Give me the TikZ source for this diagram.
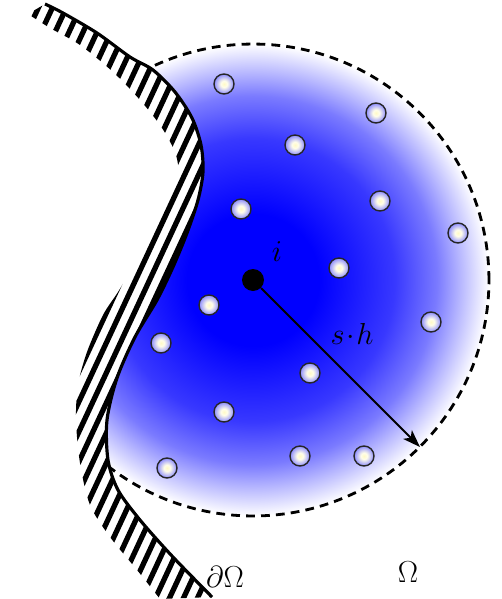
\documentclass[tikz,border=0pt]{standalone}
\usepackage{amsmath}
\usepackage{xcolor}
\usepackage{tikz}
\usetikzlibrary{arrows.meta,positioning}
\definecolor{kerblue}{RGB}{0,0,255}
\definecolor{pcore}{RGB}{255,250,200}
\pgfdeclareradialshading{kernelfade}{\pgfpointorigin}{color(0bp)=(kerblue); color(7bp)=(kerblue); color(15bp)=(kerblue!78!white); color(19.5bp)=(kerblue!52!white); color(22bp)=(kerblue!28!white); color(25bp)=(white); color(50bp)=(white)}
\pgfdeclareradialshading{partglow}{\pgfpointorigin}{color(0bp)=(pcore); color(8bp)=(pcore!40!white); color(25bp)=(kerblue!45!white); color(50bp)=(kerblue!45!white)}
\tikzset{
  wallline/.style={draw=black, line width=1.8pt, line join=round},
  hatchline/.style={draw=black, line width=3pt},
  support/.style={draw=black, line width=1.6pt, dash pattern=on 5pt off 3.5pt},
  part/.style={circle, shade, shading=partglow, draw=black!85, line width=0.8pt,
    minimum size=0.4cm, inner sep=0pt},
  centre/.style={circle, fill=black, minimum size=0.44cm, inner sep=0pt},
  kernarrow/.style={-{Stealth[length=10pt,width=7pt,inset=2.5pt]}, draw=black, line width=1.2pt},
  lab/.style={font=\fontsize{16}{19}\selectfont, inner sep=0pt}
}
\begin{document}
\begin{tikzpicture}[x=0.02cm, y=-0.02cm]
  \useasboundingbox (0,0) rectangle (502,599);
  % kernel support, cut off by the wall
  \begin{scope}
    \clip plot[smooth] coordinates {(45,4) (63,13) (97,33) (130,57) (153,70) (175,92)
      (192,118) (201,145) (203,172) (198,200) (187,233) (173,267) (157,300) (135,337)
      (117,378) (107,420) (108,460) (118,490) (140,520) (172,556) (212,597)}
      -- (230,620) -- (620,620) -- (620,-20) -- (60,-20) -- cycle;
    \shade[shading=kernelfade] (253,280) circle[radius=4.72cm];
    \draw[support] (253,280) circle[radius=4.72cm];
  \end{scope}
  % wall hatching
  \begin{scope}
    \clip plot[smooth] coordinates {(45,4) (63,13) (97,33) (130,57) (153,70) (175,92)
      (192,118) (201,145) (203,172) (198,200) (187,233) (173,267) (157,300) (135,337)
      (117,378) (107,420) (108,460) (118,490) (140,520) (172,556) (212,597)}
      -- plot[smooth] coordinates {(160,599) (137,570) (110,537) (90,505) (80,463)
      (76,420) (78,385) (87,352) (103,315) (118,292) (134,265) (151,233) (166,205)
      (178,180) (176,155) (162,128) (140,100) (113,72) (80,45) (50,28) (28,14)} -- cycle;
    \foreach \c in {0,14,...,560}
      \draw[hatchline] (\c,0) -- ++(-326,700);
  \end{scope}
  \draw[wallline] plot[smooth] coordinates {(45,4) (63,13) (97,33) (130,57) (153,70)
    (175,92) (192,118) (201,145) (203,172) (198,200) (187,233) (173,267) (157,300)
    (135,337) (117,378) (107,420) (108,460) (118,490) (140,520) (172,556) (212,597)};
  % neighbour particles
  \foreach \px/\py [count=\n] in {224/84, 376/113, 295/145, 241/209, 380/201, 458/233,
      339/268, 209/305, 431/322, 161/343, 310/373, 224/412, 167/468, 300/456, 364/456}
    \node[part] (p\n) at (\px,\py) {};
  \node[centre] (i) at (253,280) {};
  \coordinate (rim) at (420,447);
  \draw[kernarrow] (i) -- (rim);
  \node[lab] (ilab) at (277,252) {$i$};
  \node[lab] (sh) at (352,334) {$s\!\cdot\!h$};
  \node[lab] (bnd) at (225,577) {$\partial\Omega$};
  \node[lab] (dom) at (408,572) {$\Omega$};
\end{tikzpicture}
\end{document}
